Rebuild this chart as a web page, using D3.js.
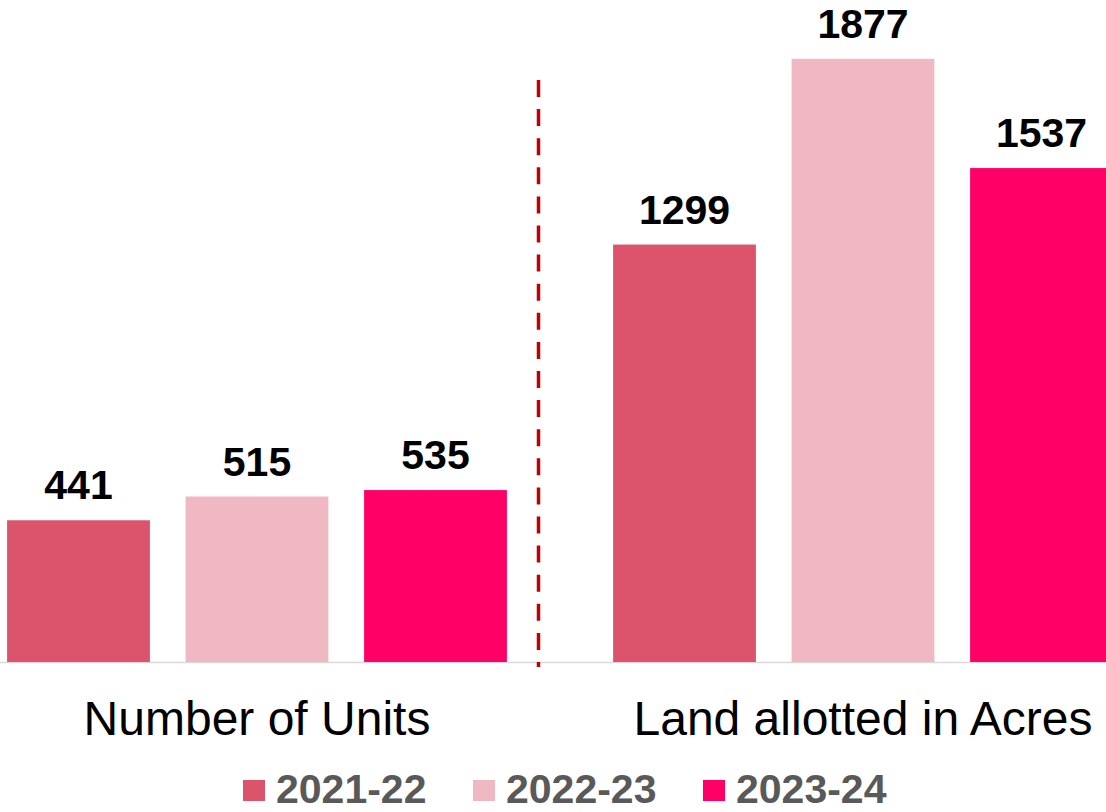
<!DOCTYPE html>
<html>
<head>
<meta charset="utf-8">
<script src="https://cdn.jsdelivr.net/npm/d3@7"></script>
<style>
  body { margin: 0; background: #fff; }
  svg { display: block; }
</style>
</head>
<body>
<svg id="chart" width="1106" height="812"></svg>
<script>
// data
const categories = ['Number of Units', 'Land allotted in Acres'];
const seriesNames = ['2021-22', '2022-23', '2023-24'];
const seriesColors = ['#DC546C', '#F0B8C3', '#FF0066'];
const units = [441, 515, 535];
const acres = [1299, 1877, 1537];

const values = [units, acres];

const svg = d3.select('#chart');
const width = 1106;
const baseY = 662;

// scales
const xGroup = d3.scalePoint()
  .domain(categories)
  .range([257, 863]);

const xSeries = d3.scaleBand()
  .domain(seriesNames)
  .range([-249.9, 249.9])
  .paddingInner(0.2)
  .paddingOuter(0);

const yScale = d3.scaleLinear()
  .domain([0, 2060])
  .range([baseY, 0]);

// axis line
svg.append('line')
  .attr('x1', 0).attr('x2', width)
  .attr('y1', yScale(0) + 0.5).attr('y2', yScale(0) + 0.5)
  .attr('stroke', '#D9D9D9')
  .attr('stroke-width', 1.5);

// bars
const groups = svg.selectAll('.group')
  .data(categories)
  .enter()
  .append('g')
  .attr('class', 'group')
  .attr('transform', d => `translate(${xGroup(d)},0)`);

groups.selectAll('rect')
  .data((d, i) => values[i].map((v, j) => ({ name: seriesNames[j], value: v, color: seriesColors[j] })))
  .enter()
  .append('rect')
  .attr('x', d => xSeries(d.name))
  .attr('y', d => yScale(d.value))
  .attr('width', xSeries.bandwidth())
  .attr('height', d => yScale(0) - yScale(d.value))
  .attr('fill', d => d.color);

groups.selectAll('.val')
  .data((d, i) => values[i].map((v, j) => ({ name: seriesNames[j], value: v })))
  .enter()
  .append('text')
  .attr('class', 'val')
  .attr('x', d => xSeries(d.name) + xSeries.bandwidth() / 2)
  .attr('y', d => yScale(d.value) - 21)
  .attr('text-anchor', 'middle')
  .attr('font-family', 'Liberation Sans, Arial, sans-serif')
  .attr('font-weight', 'bold')
  .attr('font-size', 41)
  .attr('fill', '#000')
  .text(d => d.value);

// category labels
svg.selectAll('.cat')
  .data(categories)
  .enter()
  .append('text')
  .attr('class', 'cat')
  .attr('x', d => xGroup(d))
  .attr('y', 735)
  .attr('text-anchor', 'middle')
  .attr('font-family', 'Liberation Sans, Arial, sans-serif')
  .attr('font-size', 48)
  .attr('fill', '#000')
  .text(d => d);

// dashed separator
svg.append('line')
  .attr('x1', 538.5).attr('x2', 538.5)
  .attr('y1', 80).attr('y2', 667)
  .attr('stroke', '#C00000')
  .attr('stroke-width', 3.5)
  .attr('stroke-dasharray', '17,12.1');

// legend
const legend = svg.selectAll('.legend')
  .data(seriesNames)
  .enter()
  .append('g')
  .attr('class', 'legend')
  .attr('transform', (d, i) => `translate(${243 + i * 230},780)`);

legend.append('rect')
  .attr('width', 22)
  .attr('height', 21)
  .attr('fill', (d, i) => seriesColors[i]);

legend.append('text')
  .attr('x', 33)
  .attr('y', 23)
  .attr('font-family', 'Liberation Sans, Arial, sans-serif')
  .attr('font-weight', 'bold')
  .attr('font-size', 41)
  .attr('fill', '#595959')
  .text(d => d);
</script>
</body>
</html>
